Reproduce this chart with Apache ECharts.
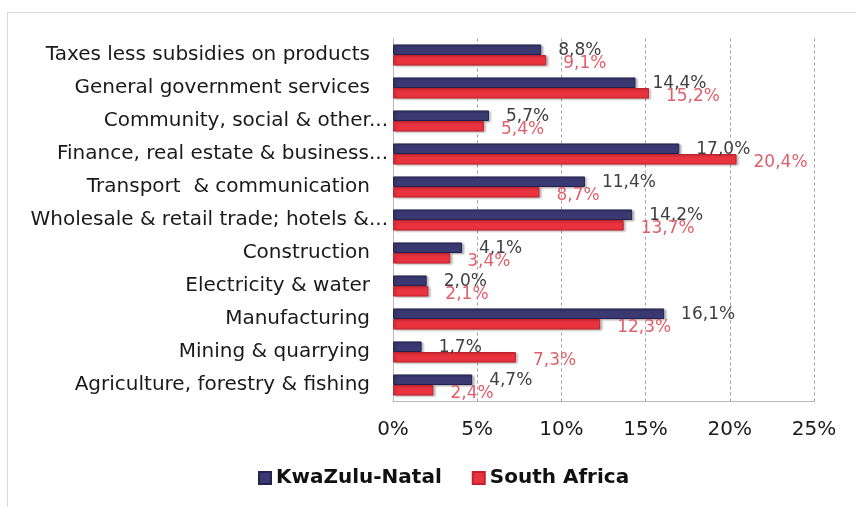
<!DOCTYPE html>
<html>
<head>
<meta charset="utf-8">
<script src="https://cdn.jsdelivr.net/npm/echarts@6/dist/echarts.min.js"></script>
<style>
  html, body { margin: 0; padding: 0; background: #ffffff; }
  #chart { width: 856px; height: 507px; }
</style>
</head>
<body>
<div id="chart"></div>
<script>
// GDP share by sector, KwaZulu-Natal vs South Africa
const categories = [
  'Taxes less subsidies on products',
  'General government services',
  'Community, social & other...',
  'Finance, real estate & business...',
  'Transport  & communication',
  'Wholesale & retail trade; hotels &...',
  'Construction',
  'Electricity & water',
  'Manufacturing',
  'Mining & quarrying',
  'Agriculture, forestry & fishing'
];
const kwazuluNatal = [8.8, 14.4, 5.7, 17.0, 11.4, 14.2, 4.1, 2.0, 16.1, 1.7, 4.7];
const southAfrica  = [9.1, 15.2, 5.4, 20.4, 8.7, 13.7, 3.4, 2.1, 12.3, 7.3, 2.4];
const xTicks = [0, 5, 10, 15, 20, 25];

const FONT = 'DejaVu Sans';
const pct = v => v.toFixed(1).replace('.', ',') + '%';

const chart = echarts.init(document.getElementById('chart'), null, { renderer: 'canvas' });

chart.setOption({
  animation: false,
  backgroundColor: '#ffffff',
  textStyle: { fontFamily: FONT },
  graphic: [{
    type: 'rect',
    left: 5, top: 10,
    shape: { width: 900, height: 600 },
    style: { fill: 'none', stroke: '#d9d9d9', lineWidth: 1 },
    z: -1
  }],
  grid: { left: 393, right: 42, top: 38.5, bottom: 105.5, containLabel: false },
  legend: {
    left: 253, top: 463,
    itemWidth: 12, itemHeight: 12, itemGap: 30,
    icon: 'rect',
    textStyle: { fontFamily: FONT, fontSize: 20, fontWeight: 'bold', color: '#111111' },
    data: ['KwaZulu-Natal', 'South Africa']
  },
  xAxis: {
    type: 'value',
    min: xTicks[0], max: xTicks[xTicks.length - 1], interval: 5,
    axisLine: { show: true, lineStyle: { color: '#b8b8b8', width: 1 } },
    axisTick: { show: false },
    axisLabel: {
      margin: 18,
      fontFamily: FONT, fontSize: 20, color: '#1a1a1a',
      formatter: v => v + '%'
    },
    splitLine: { show: true, lineStyle: { color: '#a0a0a0', type: [3, 3], width: 1 } }
  },
  yAxis: {
    type: 'category',
    inverse: true,
    data: categories,
    axisLine: { show: true, lineStyle: { color: '#b8b8b8', width: 1 } },
    axisTick: { show: false },
    axisLabel: {
      margin: 5,
      fontFamily: FONT, fontSize: 20, color: '#1a1a1a',
      formatter: v => v.endsWith('...') ? '{t|' + v + '}' : '{n|' + v + '}',
      rich: {
        n: { fontFamily: FONT, fontSize: 20, color: '#1a1a1a', padding: [0, 18, 0, 0] },
        t: { fontFamily: FONT, fontSize: 20, color: '#1a1a1a' }
      }
    }
  },
  series: [
    {
      name: 'KwaZulu-Natal',
      type: 'bar',
      data: kwazuluNatal,
      barGap: '0%',
      barCategoryGap: '36%',
      itemStyle: {
        color: '#3a3972',
        borderColor: '#24234f', borderWidth: 1,
        shadowColor: 'rgba(0,0,0,0.25)', shadowBlur: 2, shadowOffsetX: 2, shadowOffsetY: 1
      },
      label: {
        show: true, position: 'right', distance: 17, offset: [0, 1],
        fontFamily: FONT, fontSize: 17, color: '#404040',
        formatter: p => pct(p.value)
      }
    },
    {
      name: 'South Africa',
      type: 'bar',
      data: southAfrica,
      barGap: '0%',
      barCategoryGap: '36%',
      itemStyle: {
        color: '#e9333f',
        borderColor: '#c2222d', borderWidth: 1,
        shadowColor: 'rgba(0,0,0,0.25)', shadowBlur: 2, shadowOffsetX: 2, shadowOffsetY: 1
      },
      label: {
        show: true, position: 'right', distance: 17, offset: [0, 3],
        fontFamily: FONT, fontSize: 17, color: '#e0606a',
        formatter: p => pct(p.value)
      }
    }
  ]
});
</script>
</body>
</html>
